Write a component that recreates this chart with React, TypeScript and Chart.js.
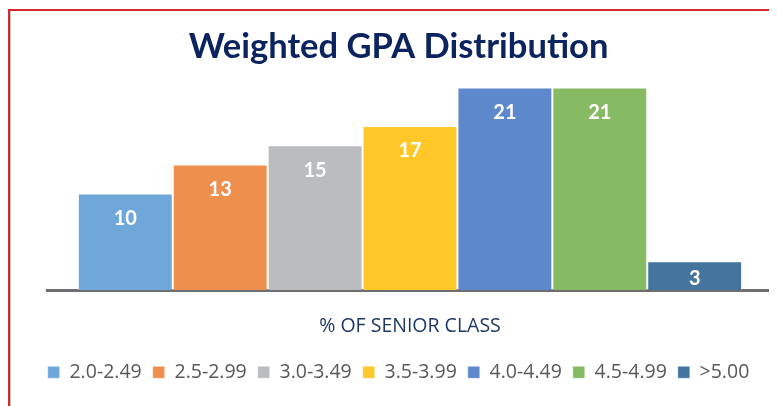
import React, { useEffect, useRef } from "react";
import { Chart, registerables } from "chart.js";

Chart.register(...registerables);

const categories = ["% OF SENIOR CLASS"];
const seriesNames = ["2.0-2.49", "2.5-2.99", "3.0-3.49", "3.5-3.99", "4.0-4.49", "4.5-4.99", ">5.00"];
const seriesValues = [10, 13, 15, 17, 21, 21, 3];
const seriesColors = ["#70a7da", "#ee8f4e", "#bbbcbe", "#ffc728", "#5e88cc", "#86ba63", "#44759f"];
const chartTitle = "Weighted GPA Distribution";

const labelPlugin = {
  id: "barLabels",
  afterDatasetsDraw(chart: any) {
    const ctx = chart.ctx;
    ctx.save();
    ctx.fillStyle = "#ffffff";
    ctx.font = "bold 20px Lato";
    ctx.textAlign = "center";
    ctx.textBaseline = "middle";
    chart.data.datasets.forEach((ds: any, i: number) => {
      const meta = chart.getDatasetMeta(i);
      meta.data.forEach((bar: any, j: number) => {
        const h = bar.base - bar.y;
        const y = bar.y + Math.min(25, h * 0.6);
        ctx.fillText(String(ds.data[j]), bar.x, y);
      });
    });
    ctx.restore();
  },
};

export default function App() {
  const ref = useRef<HTMLCanvasElement>(null);
  useEffect(() => {
    if (!ref.current) return;
    const chart = new Chart(ref.current, {
      type: "bar",
      data: {
        labels: categories,
        datasets: seriesNames.map((name, i) => ({
          label: name,
          data: [seriesValues[i]],
          backgroundColor: seriesColors[i],
          borderColor: "rgba(255,255,255,0.45)",
          borderWidth: 1,
          barPercentage: 1,
          categoryPercentage: 0.915,
          yAxisID: "y",
        })),
      },
      options: {
        responsive: false,
        animation: false,
        layout: { padding: { left: 10, right: 0, top: 0, bottom: 14 } },
        plugins: {
          title: {
            display: true,
            text: chartTitle,
            color: "#0b2460",
            font: { family: "Lato", size: 34.5, weight: "bold" },
            padding: { top: 15, bottom: 20 },
          },
          legend: {
            position: "bottom",
            labels: {
              boxWidth: 12,
              boxHeight: 12,
              padding: 11,
              color: "#595959",
              font: { family: "Open Sans", size: 19.5 },
            },
          },
          tooltip: { enabled: false },
        },
        scales: {
          x: {
            grid: { display: false },
            border: { display: true, color: "#6d6e71", width: 3 },
            ticks: {
              color: "#1f3864",
              padding: 17,
              font: { family: "Open Sans", size: 19.5 },
            },
            afterFit: (s: any) => {
              s.height = s.height - 4;
            },
          },
          y: {
            display: true,
            position: "left",
            min: 0,
            max: 21,
            grid: { display: false },
            border: { display: false },
            ticks: { display: false },
            afterFit: (s: any) => {
              s.width = 27;
            },
          },
          y2: {
            display: true,
            position: "right",
            min: 0,
            max: 21,
            grid: { display: false },
            border: { display: false },
            ticks: { display: false },
            afterFit: (s: any) => {
              s.width = 4;
            },
          },
        },
      },
      plugins: [labelPlugin],
    });
    return () => chart.destroy();
  }, []);
  return (
    <div
      style={{
        marginTop: 1,
        borderTop: "2px solid #d7282f",
        borderLeft: "2px solid #d7282f",
        boxShadow: "inset 1px 0 0 #c4c4c4",
        width: 769,
        height: 397,
        overflow: "hidden",
      }}
    >
      <canvas ref={ref} width={767} height={395} style={{ display: "block" }} />
    </div>
  );
}
